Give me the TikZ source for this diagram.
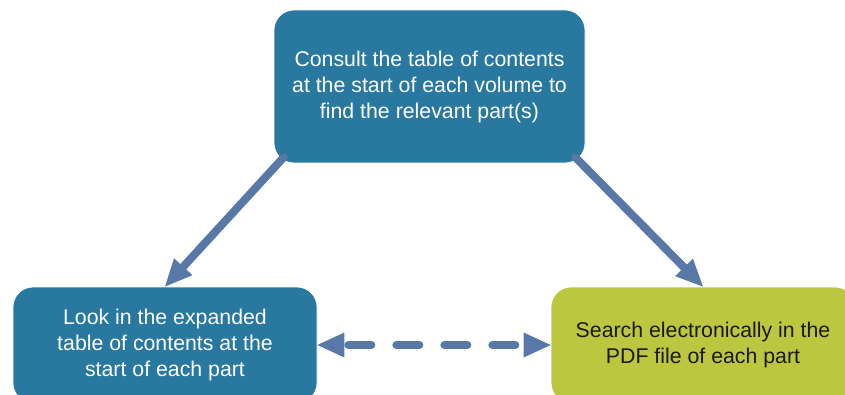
\documentclass[tikz,border=0pt]{standalone}
\usepackage{fontspec}
\setmainfont{Liberation Sans}
\usepackage{tikz}
\definecolor{blue600}{HTML}{2878A0}
\definecolor{lime500}{HTML}{BCC63F}
\definecolor{arrow500}{HTML}{5878A8}
\usetikzlibrary{arrows.meta}
\tikzstyle{caixa}=[rounded corners=20pt, align=center, inner sep=0pt, draw=white, line width=0.75pt, font=\fontsize{21.3}{26}\selectfont]
\tikzstyle{caixaazul}=[caixa, fill=blue600, text=white]
\tikzstyle{caixaverde}=[caixa, fill=lime500, text=black!90]
\tikzstyle{seta}=[draw=arrow500, line width=8pt, line cap=round, >={Triangle[length=27pt, width=25pt, line width=0pt]}, ->]

\begin{document}
\begin{tikzpicture}[x=1pt, y=1pt]
					\useasboundingbox (0,0) rectangle (845,394);
					\clip (0,0) rectangle (845,394);
					\node[caixaazul, minimum width=311pt, minimum height=153pt] (consult) at (429.5,307.5) {Consult the table of contents\\at the start of each volume to\\find the relevant part(s)};
					\node[caixaazul, minimum width=304pt, minimum height=116pt] (expanded) at (165,49) {Look in the expanded\\table of contents at the\\start of each part};
					\node[caixaverde, minimum width=304pt, minimum height=116pt] (search) at (703,49) {Search electronically in the\\PDF file of each part};
					\path[seta] ([shift={(10,6)}]consult.south west) -- (expanded.north);
					\path[seta] ([shift={(-10,6)}]consult.south east) -- (search.north);
					\path[seta, <->, dash pattern=on 23pt off 25pt, dash phase=44pt] (expanded.east) -- (search.west);
				\end{tikzpicture}
\end{document}
